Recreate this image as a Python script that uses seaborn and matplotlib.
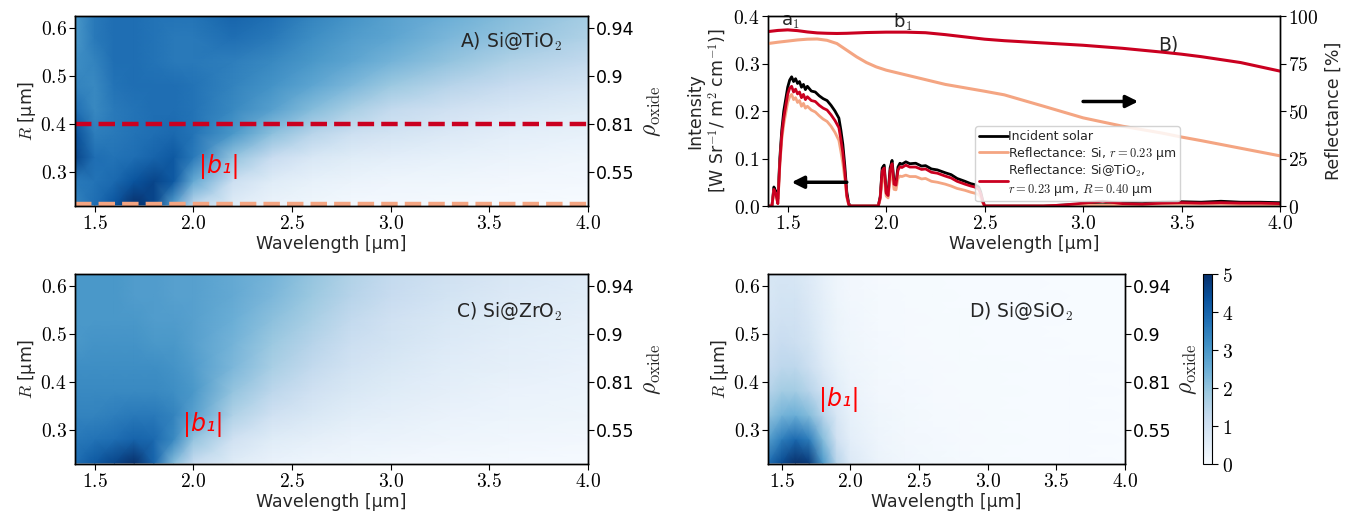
import numpy as np
import pandas as pd
import matplotlib
matplotlib.use("Agg")
import matplotlib.pyplot as plt
from matplotlib.ticker import FormatStrFormatter, FixedLocator, FixedFormatter
import seaborn as sns

# ---------------- data ----------------
heat_wl = [1.4, 1.5, 1.6, 1.7, 1.8, 1.9, 2.0, 2.2, 2.4, 2.6, 2.8, 3.0, 3.3, 3.6, 4.0]
heat_R = [0.23, 0.28, 0.33, 0.38, 0.43, 0.48, 0.53, 0.58, 0.63]

rho_TiO2 = [
    [3.4, 3.8, 4.3, 5.0, 4.6, 2.8, 1.4, 0.6, 0.3, 0.2, 0.1, 0.1, 0.05, 0.05, 0.0],
    [3.6, 3.7, 3.9, 4.3, 4.6, 4.2, 2.6, 1.1, 0.6, 0.4, 0.3, 0.25, 0.2, 0.15, 0.1],
    [4.6, 3.8, 3.7, 3.8, 4.0, 4.2, 3.6, 2.0, 1.2, 0.8, 0.6, 0.5, 0.4, 0.3, 0.2],
    [4.4, 3.5, 3.6, 3.7, 3.8, 3.9, 3.7, 3.0, 2.1, 1.5, 1.1, 0.9, 0.7, 0.5, 0.4],
    [3.8, 3.3, 3.6, 3.7, 3.8, 3.8, 3.7, 3.3, 2.8, 2.2, 1.7, 1.3, 1.0, 0.8, 0.6],
    [3.4, 3.3, 3.7, 3.8, 3.8, 3.8, 3.7, 3.4, 3.1, 2.7, 2.3, 1.9, 1.5, 1.2, 0.9],
    [3.2, 3.4, 3.8, 3.8, 3.7, 3.6, 3.6, 3.5, 3.3, 3.0, 2.7, 2.4, 2.0, 1.6, 1.3],
    [3.0, 3.6, 3.8, 3.8, 3.7, 3.6, 3.6, 3.8, 3.6, 3.2, 2.9, 2.7, 2.3, 2.0, 1.6],
    [3.0, 3.6, 3.8, 3.8, 3.7, 3.7, 3.7, 4.0, 3.8, 3.4, 3.1, 2.8, 2.5, 2.2, 1.8],
]
rho_ZrO2 = [
    [3.8, 4.2, 4.6, 5.0, 4.0, 2.2, 1.2, 0.6, 0.35, 0.25, 0.2, 0.15, 0.1, 0.08, 0.05],
    [3.6, 3.7, 3.8, 4.0, 3.9, 3.3, 2.0, 1.0, 0.6, 0.45, 0.35, 0.3, 0.22, 0.18, 0.15],
    [3.4, 3.4, 3.5, 3.6, 3.6, 3.4, 2.8, 1.6, 1.0, 0.75, 0.55, 0.45, 0.35, 0.28, 0.22],
    [3.3, 3.3, 3.3, 3.3, 3.3, 3.2, 3.0, 2.0, 1.4, 1.0, 0.75, 0.6, 0.45, 0.35, 0.28],
    [3.2, 3.2, 3.2, 3.2, 3.2, 3.1, 2.9, 2.3, 1.7, 1.3, 0.95, 0.75, 0.55, 0.45, 0.35],
    [3.0, 3.1, 3.1, 3.1, 3.0, 3.0, 2.8, 2.4, 1.9, 1.5, 1.1, 0.9, 0.65, 0.5, 0.4],
    [3.0, 3.0, 3.0, 3.0, 2.9, 2.9, 2.8, 2.5, 2.1, 1.7, 1.3, 1.0, 0.75, 0.6, 0.45],
    [3.0, 3.0, 3.0, 2.9, 2.9, 2.8, 2.8, 2.6, 2.3, 1.9, 1.5, 1.2, 0.9, 0.7, 0.55],
    [3.0, 3.0, 3.0, 2.9, 2.9, 2.8, 2.8, 2.6, 2.4, 2.0, 1.6, 1.3, 1.0, 0.8, 0.6],
]
rho_SiO2 = [
    [3.8, 4.5, 5.0, 4.8, 3.0, 1.5, 0.7, 0.3, 0.18, 0.12, 0.08, 0.05, 0.03, 0.02, 0.0],
    [2.8, 3.5, 3.9, 3.5, 2.2, 1.0, 0.5, 0.25, 0.15, 0.1, 0.07, 0.05, 0.03, 0.02, 0.0],
    [2.0, 2.4, 2.5, 2.2, 1.5, 0.8, 0.4, 0.2, 0.12, 0.08, 0.06, 0.04, 0.03, 0.02, 0.0],
    [1.5, 1.8, 1.8, 1.5, 1.0, 0.55, 0.3, 0.15, 0.1, 0.07, 0.05, 0.04, 0.03, 0.02, 0.0],
    [1.2, 1.4, 1.4, 1.1, 0.7, 0.4, 0.25, 0.12, 0.08, 0.06, 0.05, 0.04, 0.03, 0.02, 0.0],
    [1.0, 1.2, 1.1, 0.9, 0.55, 0.3, 0.2, 0.1, 0.07, 0.05, 0.04, 0.03, 0.02, 0.01, 0.0],
    [0.9, 1.0, 1.0, 0.8, 0.5, 0.28, 0.18, 0.09, 0.06, 0.05, 0.04, 0.03, 0.02, 0.01, 0.0],
    [0.8, 0.9, 0.9, 0.7, 0.45, 0.25, 0.15, 0.08, 0.05, 0.04, 0.03, 0.02, 0.02, 0.01, 0.0],
    [0.8, 0.85, 0.8, 0.65, 0.4, 0.22, 0.14, 0.07, 0.05, 0.04, 0.03, 0.02, 0.02, 0.01, 0.0],
]

rho_tick_R = [0.3, 0.4, 0.5, 0.6]
rho_tick_labels = ["0.55", "0.81", "0.9", "0.94"]
wl_ticks = [1.5, 2.0, 2.5, 3.0, 3.5, 4.0]
R_ticks = [0.3, 0.4, 0.5, 0.6]

spec_wl = [1.40, 1.42, 1.43, 1.44, 1.45, 1.46, 1.47, 1.48, 1.49, 1.50,
           1.51, 1.52, 1.53, 1.54, 1.55, 1.56, 1.57, 1.58, 1.59, 1.60,
           1.62, 1.64, 1.66, 1.68, 1.70, 1.72, 1.74, 1.76, 1.77, 1.78,
           1.79, 1.80, 1.81, 1.82, 1.90, 1.96, 1.97, 1.98, 1.99, 2.00,
           2.01, 2.02, 2.03, 2.04, 2.05, 2.06, 2.07, 2.08, 2.10, 2.12,
           2.15, 2.18, 2.20, 2.23, 2.26, 2.30, 2.33, 2.36, 2.40, 2.43,
           2.45, 2.47, 2.48, 2.49, 2.50, 2.55, 2.80, 2.90, 3.00, 3.10,
           3.20, 3.30, 3.40, 3.50, 3.60, 3.70, 3.80, 3.90, 4.00]
solar = [0.000, 0.000, 0.040, 0.030, 0.015, 0.100, 0.160, 0.200, 0.225, 0.250,
         0.265, 0.272, 0.262, 0.268, 0.258, 0.262, 0.250, 0.256, 0.245, 0.252,
         0.242, 0.240, 0.232, 0.226, 0.222, 0.212, 0.200, 0.185, 0.160, 0.130,
         0.085, 0.030, 0.005, 0.000, 0.000, 0.000, 0.020, 0.080, 0.086, 0.030,
         0.025, 0.080, 0.096, 0.050, 0.048, 0.082, 0.090, 0.088, 0.093, 0.089,
         0.090, 0.084, 0.085, 0.078, 0.076, 0.070, 0.066, 0.058, 0.052, 0.047,
         0.045, 0.040, 0.030, 0.012, 0.000, 0.000, 0.000, 0.002, 0.004, 0.003,
         0.006, 0.005, 0.008, 0.009, 0.008, 0.010, 0.008, 0.008, 0.007]
spec_si = [0.000, 0.000, 0.033, 0.024, 0.005, 0.085, 0.140, 0.172, 0.195, 0.218,
           0.230, 0.235, 0.224, 0.228, 0.218, 0.222, 0.210, 0.216, 0.206, 0.210,
           0.202, 0.198, 0.190, 0.183, 0.178, 0.168, 0.155, 0.138, 0.115, 0.090,
           0.058, 0.018, 0.002, 0.000, 0.000, 0.000, 0.014, 0.058, 0.062, 0.021,
           0.017, 0.057, 0.068, 0.035, 0.034, 0.058, 0.063, 0.062, 0.065, 0.062,
           0.062, 0.057, 0.058, 0.052, 0.050, 0.046, 0.042, 0.037, 0.033, 0.029,
           0.027, 0.024, 0.018, 0.007, 0.000, 0.000, 0.000, 0.001, 0.002, 0.002,
           0.003, 0.003, 0.004, 0.004, 0.004, 0.004, 0.003, 0.003, 0.003]
spec_tio2 = [0.000, 0.000, 0.035, 0.025, 0.005, 0.090, 0.150, 0.185, 0.210, 0.235,
             0.248, 0.252, 0.240, 0.246, 0.236, 0.240, 0.228, 0.235, 0.224, 0.230,
             0.222, 0.220, 0.212, 0.206, 0.202, 0.192, 0.180, 0.165, 0.140, 0.112,
             0.072, 0.022, 0.003, 0.000, 0.000, 0.000, 0.018, 0.074, 0.080, 0.027,
             0.022, 0.074, 0.089, 0.046, 0.044, 0.075, 0.083, 0.081, 0.086, 0.082,
             0.082, 0.077, 0.078, 0.071, 0.069, 0.063, 0.059, 0.052, 0.046, 0.042,
             0.040, 0.035, 0.026, 0.010, 0.000, 0.000, 0.000, 0.002, 0.006, 0.010,
             0.005, 0.004, 0.006, 0.007, 0.006, 0.007, 0.006, 0.006, 0.005]

refl_wl = [1.40, 1.45, 1.50, 1.55, 1.60, 1.65, 1.70, 1.75, 1.80, 1.85, 1.90, 1.95,
           2.00, 2.10, 2.20, 2.30, 2.40, 2.50, 2.60, 2.80, 3.00, 3.20, 3.40, 3.50,
           3.60, 3.80, 4.00]
refl_tio2 = [91.8, 92.4, 92.7, 92.3, 91.6, 91.1, 90.9, 90.8, 90.9, 91.1, 91.3, 91.4,
             91.5, 91.5, 91.2, 90.2, 89.0, 87.8, 87.0, 85.8, 84.6, 83.0, 81.0, 79.9,
             78.6, 75.5, 71.0]
refl_si = [85.5, 86.2, 86.8, 87.4, 87.8, 87.9, 87.2, 85.5, 82.0, 78.5, 75.5, 73.2,
           71.5, 69.0, 66.5, 64.0, 62.2, 60.4, 58.5, 52.5, 46.4, 42.0, 38.4, 36.3,
           34.4, 30.4, 26.4]

r_core = 0.23
R_shell = 0.40

RED = "#ca0020"
ORANGE = "#f4a582"

# ---------------- style ----------------
sns.set_style("ticks")
plt.rcParams["font.family"] = ["DejaVu Sans"]
plt.rcParams["mathtext.fontset"] = "cm"
plt.rcParams["axes.edgecolor"] = "black"
plt.rcParams["xtick.color"] = "black"
plt.rcParams["ytick.color"] = "black"
plt.rcParams["axes.linewidth"] = 1.0

W, H = 1360, 519
fig = plt.figure(figsize=(W / 100, H / 100), dpi=100)


def box(x0, x1, y0, y1):
    return [x0 / W, 1 - y1 / H, (x1 - x0) / W, (y1 - y0) / H]


TICK_FS = 14
LAB_FS = 12.5
RHO_FS = 17


def style_ticks(ax, size=TICK_FS):
    ax.tick_params(direction="out", length=4, width=0.8, labelsize=size, pad=2)


def heat_panel(rect, data, title, title_y, b1_xy, show_rho_label=True, xr=0.95):
    ax = fig.add_axes(rect)
    X, Y = np.meshgrid(heat_wl, heat_R)
    mesh = ax.pcolormesh(X, Y, np.array(data), cmap="Blues", vmin=0, vmax=5,
                         shading="gouraud")
    ax.set_xlim(1.4, 4.0)
    ax.set_ylim(0.228, 0.625)
    ax.set_xticks(wl_ticks)
    ax.set_yticks(R_ticks)
    ax.xaxis.set_major_formatter(FormatStrFormatter("$%.1f$"))
    ax.yaxis.set_major_formatter(FormatStrFormatter("$%.1f$"))
    ax.set_xlabel("Wavelength [µm]", fontsize=LAB_FS, labelpad=1)
    ax.set_ylabel(r"$R$ [µm]", fontsize=LAB_FS, labelpad=2)
    style_ticks(ax)
    axr = ax.twinx()
    axr.set_ylim(ax.get_ylim())
    axr.yaxis.set_major_locator(FixedLocator(rho_tick_R))
    axr.yaxis.set_major_formatter(FixedFormatter(rho_tick_labels))
    style_ticks(axr, size=12.5)
    if show_rho_label:
        axr.set_ylabel(r"$\rho_{\rm oxide}$", fontsize=RHO_FS, labelpad=3)
    ax.text(xr, title_y, title, transform=ax.transAxes, ha="right", va="center",
            fontsize=13.5)
    ax.text(b1_xy[0], b1_xy[1], "|b\u2081|", color="red", fontsize=17,
            style="italic", ha="center", va="center")
    return ax, mesh


# Panel A
axA, meshA = heat_panel(box(75, 588, 16, 206), rho_TiO2, r"A) Si@TiO$_2$", 0.865,
                        (2.13, 0.31))
axA.axhline(R_shell, color=RED, lw=3.2, ls="--")
axA.axhline(r_core + 0.003, color=ORANGE, lw=3.2, ls="--")

# Panel C
axC, meshC = heat_panel(box(75, 588, 274, 464), rho_ZrO2, r"C) Si@ZrO$_2$", 0.80,
                        (2.05, 0.31))

# Panel D
axD, meshD = heat_panel(box(768, 1125, 274, 464), rho_SiO2, r"D) Si@SiO$_2$", 0.80,
                        (1.92, 0.362), show_rho_label=False, xr=0.855)

# Colorbar
cax = fig.add_axes(box(1203, 1212, 274, 464))
cb = fig.colorbar(meshD, cax=cax, ticks=[0, 1, 2, 3, 4, 5])
cb.ax.tick_params(labelsize=TICK_FS, length=4, width=0.8)
cb.ax.yaxis.set_major_formatter(FormatStrFormatter("$%d$"))
cb.set_label(r"$\rho_{\rm oxide}$", fontsize=RHO_FS, labelpad=3)
cb.ax.yaxis.set_label_position("left")
cb.outline.set_linewidth(0.8)

# Panel B
axB = fig.add_axes(box(768, 1280, 16, 206))
spec_df = pd.DataFrame({"wl": spec_wl, "solar": solar, "si": spec_si,
                        "tio2": spec_tio2})
refl_df = pd.DataFrame({"wl": refl_wl, "si": refl_si, "tio2": refl_tio2})

sns.lineplot(data=spec_df, x="wl", y="solar", ax=axB, color="black", lw=2,
             estimator=None, sort=False, label="Incident solar")
sns.lineplot(data=spec_df, x="wl", y="si", ax=axB, color=ORANGE, lw=2,
             estimator=None, sort=False,
             label=r"Reflectance: Si, $r = 0.23$ µm")
sns.lineplot(data=spec_df, x="wl", y="tio2", ax=axB, color=RED, lw=2,
             estimator=None, sort=False,
             label="Reflectance: Si@TiO$_2$,\n$r = 0.23$ µm, $R = 0.40$ µm")
handles, labels = axB.get_legend_handles_labels()
axB.get_legend().remove()

axB.set_xlim(1.4, 4.0)
axB.set_ylim(0, 0.4)
axB.set_xticks(wl_ticks)
axB.set_yticks([0.0, 0.1, 0.2, 0.3, 0.4])
axB.xaxis.set_major_formatter(FormatStrFormatter("$%.1f$"))
axB.yaxis.set_major_formatter(FormatStrFormatter("$%.1f$"))
axB.set_xlabel("Wavelength [µm]", fontsize=LAB_FS, labelpad=1)
axB.set_ylabel("Intensity\n[W Sr$^{-1}$/ m$^2$ cm$^{-1}$)]", fontsize=LAB_FS,
               labelpad=4, linespacing=1.1)
style_ticks(axB)

axB2 = axB.twinx()
sns.lineplot(data=refl_df, x="wl", y="tio2", ax=axB2, color=RED, lw=2.2,
             estimator=None, sort=False)
sns.lineplot(data=refl_df, x="wl", y="si", ax=axB2, color=ORANGE, lw=2.2,
             estimator=None, sort=False)
axB2.set_ylim(0, 100)
axB2.set_yticks([0, 25, 50, 75, 100])
axB2.yaxis.set_major_formatter(FormatStrFormatter("$%d$"))
axB2.set_ylabel("Reflectance [%]", fontsize=LAB_FS, labelpad=4)
axB2.set_xlim(1.4, 4.0)
style_ticks(axB2)

leg = axB2.legend(handles, labels, loc="lower left", bbox_to_anchor=(0.405, 0.025),
                  fontsize=9, handlelength=2.3, handletextpad=0.0,
                  labelspacing=0.12, borderpad=0.3, borderaxespad=0.0,
                  frameon=True, fancybox=True, edgecolor="0.8", framealpha=0.85)

axB2.annotate("", xy=(1.52, 0.05 * 250), xytext=(1.80, 0.05 * 250),
              arrowprops=dict(arrowstyle="-|>", color="black", lw=2.5,
                              mutation_scale=18, shrinkA=0, shrinkB=0))
axB2.annotate("", xy=(3.28, 55), xytext=(3.0, 55),
              arrowprops=dict(arrowstyle="-|>", color="black", lw=2.5,
                              mutation_scale=18, shrinkA=0, shrinkB=0))
axB.text(1.515, 0.387, r"a$_1$", fontsize=13, ha="center", va="center")
axB.text(2.085, 0.387, r"b$_1$", fontsize=13, ha="center", va="center")
axB.text(3.43, 0.338, "B)", fontsize=13.5, ha="center", va="center")

fig.savefig("out.png", dpi=100)
